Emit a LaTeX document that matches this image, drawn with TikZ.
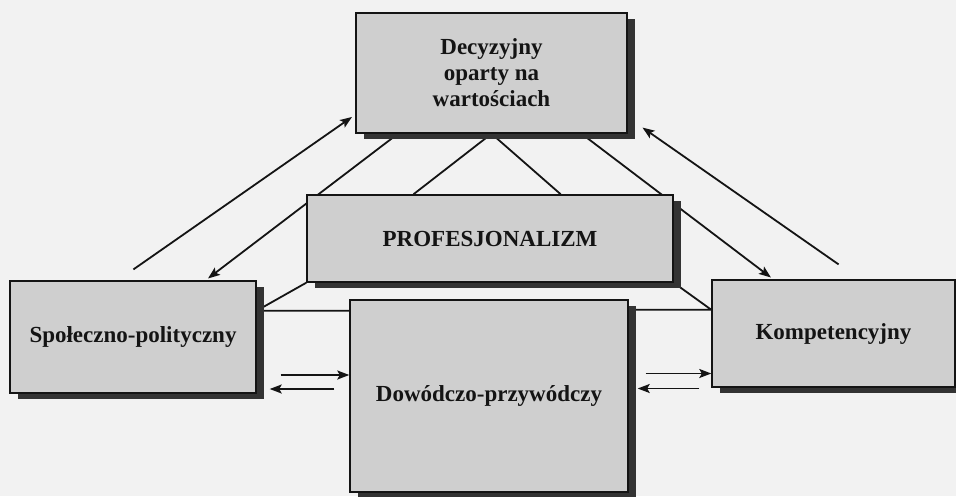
\documentclass[tikz,border=0pt]{standalone}
\usepackage{fontspec}
\setmainfont{Liberation Serif}
\usetikzlibrary{arrows.meta,shadows}
\pgfdeclarelayer{lines}
\pgfsetlayers{lines,main}

\definecolor{paper}{gray}{0.95}
\definecolor{boxfill}{gray}{0.81}
\definecolor{boxshadow}{gray}{0.2}
\definecolor{ink}{gray}{0.08}

\begin{document}
\begin{tikzpicture}[x=1pt,y=-1pt,
  level box/.style={draw=ink,line width=1.4pt,fill=boxfill,inner sep=0pt,align=center,text=ink,
    font=\fontsize{23}{26}\selectfont\bfseries,
    drop shadow={shadow xshift=8pt,shadow yshift=-6pt,fill=boxshadow,opacity=1}},
  link/.style={draw=ink,line width=1.8pt},
  flow/.style={link,-{Stealth[length=12pt,width=9pt,inset=2.5pt]}}]
\begin{pgfonlayer}{lines}
\fill[paper] (0,0) rectangle (956,496);
\end{pgfonlayer}
\useasboundingbox (0,0) rectangle (956,496);

% Boxes
\node[level box,minimum width=271pt,minimum height=120pt] (dec) at (491.5,73) {Decyzyjny\\oparty na\\wartościach};
\node[level box,minimum width=366pt,minimum height=87pt] (prof) at (490,238.5) {PROFESJONALIZM};
\node[level box,minimum width=246pt,minimum height=112pt] (spol) at (133,337) {Społeczno-polityczny};
\node[level box,minimum width=243pt,minimum height=107pt] (komp) at (833.5,333.5) {Kompetencyjny};
\node[level box,minimum width=278pt,minimum height=192pt] (dow) at (489,396) {Dowódczo-przywódczy};

\begin{pgfonlayer}{lines}
% up and down between the top box and the side boxes
\draw[flow,shorten <=19pt,shorten >=4pt] (spol.105) -- (dec.197);
\draw[flow,shorten >=3pt] (dec.213) -- (spol.38);
\draw[flow,shorten >=3pt] (dec.326) -- (komp.138);
\draw[flow,shorten <=26pt,shorten >=18pt] (komp.64) -- (dec.342);

% triangle under the top box
\draw[link] (prof.150) -- (dec.south) -- (prof.32);

% side links
\draw[link] (prof.south west) -- (spol.12) -- (spol.12 -| dow.west);
\draw[link] (prof.south east) -- (komp.169) -- (komp.169 -| dow.east);

% two-way arrows at the bottom
\draw[flow,shorten <=24pt] ([yshift=-38pt]spol.east) -- ([yshift=-38pt]spol.east -| dow.west);
\draw[flow,shorten <=15pt,shorten >=13pt] ([yshift=-52pt]spol.east -| dow.west) -- ([yshift=-52pt]spol.east);
\draw[flow,shorten <=17pt] ([yshift=-40pt]komp.west -| dow.east) -- ([yshift=-40pt]komp.west);
\draw[flow,shorten <=12pt,shorten >=9pt] ([yshift=-55pt]komp.west) -- ([yshift=-55pt]komp.west -| dow.east);
\end{pgfonlayer}
\end{tikzpicture}
\end{document}
